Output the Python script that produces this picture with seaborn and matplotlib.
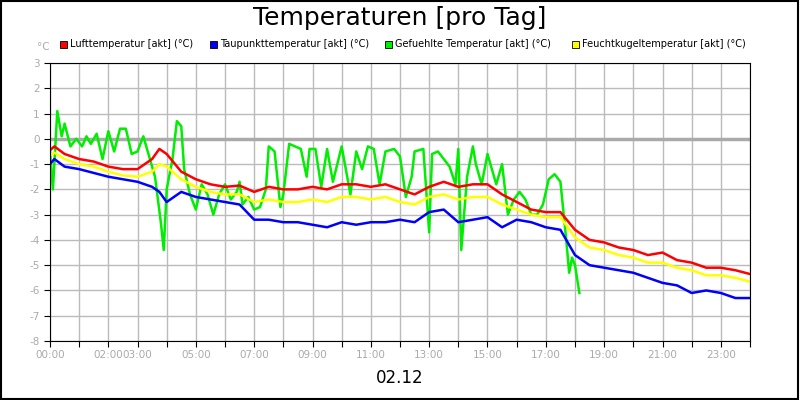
import numpy as np
import pandas as pd
import matplotlib
matplotlib.use("Agg")
import matplotlib.pyplot as plt
import seaborn as sns
from matplotlib.patches import Rectangle

hours_main = [0, 0.15, 0.5, 1, 1.5, 2, 2.5, 3, 3.5, 3.75, 4, 4.5, 5, 5.5, 6, 6.5, 7, 7.5, 8, 8.5, 9, 9.5,
              10, 10.5, 11, 11.5, 12, 12.5, 13, 13.5, 14, 14.5, 15, 15.5, 16, 16.5, 17, 17.5, 18, 18.5,
              19, 19.5, 20, 20.5, 21, 21.5, 22, 22.5, 23, 23.5, 24]
luft = [-0.45, -0.3, -0.6, -0.8, -0.9, -1.1, -1.2, -1.2, -0.8, -0.4, -0.6, -1.3, -1.6, -1.8, -1.9, -1.85,
        -2.1, -1.9, -2.0, -2.0, -1.9, -2.0, -1.8, -1.8, -1.9, -1.8, -2.0, -2.2, -1.9, -1.7, -1.9, -1.8,
        -1.8, -2.2, -2.5, -2.8, -2.9, -2.9, -3.6, -4.0, -4.1, -4.3, -4.4, -4.6, -4.5, -4.8, -4.9, -5.1,
        -5.1, -5.2, -5.35]
feucht = [-0.65, -0.55, -0.8, -1.0, -1.1, -1.3, -1.45, -1.5, -1.3, -1.0, -1.1, -1.6, -1.9, -2.1, -2.2,
          -2.2, -2.5, -2.4, -2.5, -2.5, -2.4, -2.5, -2.3, -2.3, -2.4, -2.3, -2.5, -2.6, -2.3, -2.2, -2.4,
          -2.3, -2.3, -2.6, -2.8, -3.0, -3.1, -3.1, -3.9, -4.3, -4.4, -4.6, -4.7, -4.9, -4.9, -5.1, -5.2,
          -5.4, -5.4, -5.5, -5.65]
taupunkt = [-1.0, -0.8, -1.1, -1.2, -1.35, -1.5, -1.6, -1.7, -1.9, -2.1, -2.5, -2.1, -2.3, -2.4, -2.5,
            -2.6, -3.2, -3.2, -3.3, -3.3, -3.4, -3.5, -3.3, -3.4, -3.3, -3.3, -3.2, -3.3, -2.9, -2.8,
            -3.3, -3.2, -3.1, -3.5, -3.2, -3.3, -3.5, -3.6, -4.6, -5.0, -5.1, -5.2, -5.3, -5.5, -5.7,
            -5.8, -6.1, -6.0, -6.1, -6.3, -6.3]

hours_gef = [0, 0.1, 0.25, 0.4, 0.5, 0.7, 0.9, 1.1, 1.25, 1.4, 1.6, 1.8, 2, 2.2, 2.4, 2.6, 2.8, 3, 3.2,
             3.4, 3.6, 3.8, 3.9, 4.0, 4.2, 4.35, 4.5, 4.6, 4.8, 5.0, 5.2, 5.4, 5.6, 5.8, 6.0, 6.2, 6.4,
             6.5, 6.6, 6.8, 7.0, 7.2, 7.4, 7.5, 7.7, 7.9, 8.0, 8.2, 8.4, 8.6, 8.8, 8.9, 9.1, 9.3, 9.5,
             9.7, 10.0, 10.3, 10.5, 10.7, 10.9, 11.1, 11.3, 11.5, 11.8, 12.0, 12.2, 12.4, 12.5, 12.8,
             13.0, 13.1, 13.3, 13.5, 13.7, 13.9, 14.0, 14.1, 14.3, 14.5, 14.6, 14.8, 15.0, 15.3, 15.5,
             15.7, 15.9, 16.1, 16.3, 16.5, 16.7, 16.9, 17.1, 17.3, 17.5, 17.7, 17.8, 17.9, 18.0, 18.15]
gefuehlt = [-0.5, -2.0, 1.1, 0.1, 0.6, -0.3, 0.0, -0.3, 0.1, -0.2, 0.2, -0.8, 0.3, -0.5, 0.4, 0.4, -0.6,
            -0.5, 0.1, -0.7, -1.5, -3.3, -4.4, -2.0, -0.8, 0.7, 0.5, -1.2, -2.2, -2.8, -1.8, -2.2, -3.0,
            -2.2, -1.8, -2.4, -2.1, -1.7, -2.6, -2.3, -2.8, -2.7, -2.0, -0.3, -0.5, -2.7, -2.2, -0.2,
            -0.3, -0.4, -1.5, -0.4, -0.4, -1.9, -0.4, -1.7, -0.3, -2.2, -0.5, -1.2, -0.3, -0.4, -1.8,
            -0.5, -0.4, -0.7, -2.3, -1.5, -0.5, -0.4, -3.7, -0.6, -0.5, -0.8, -1.1, -1.8, -0.4, -4.4,
            -1.5, -0.3, -1.0, -1.8, -0.6, -1.8, -1.0, -3.0, -2.4, -2.1, -2.4, -3.0, -3.0, -2.6, -1.6,
            -1.4, -1.7, -4.0, -5.3, -4.7, -5.0, -6.1]

tick_hours = [0, 2, 3, 5, 7, 9, 11, 13, 15, 17, 19, 21, 23]
tick_labels = ["00:00", "02:00", "03:00", "05:00", "07:00", "09:00", "11:00", "13:00", "15:00",
               "17:00", "19:00", "21:00", "23:00"]
series_names = ["Lufttemperatur [akt] (°C)", "Taupunkttemperatur [akt] (°C)",
                "Gefuehlte Temperatur [akt] (°C)", "Feuchtkugeltemperatur [akt] (°C)"]
colors = ["#ff0000", "#0000ff", "#00ee00", "#ffff00"]

fig = plt.figure(figsize=(8, 4), dpi=100)
fig.patches.append(Rectangle((0.001, 0.002), 0.997, 0.996, transform=fig.transFigure,
                             fill=False, edgecolor="black", linewidth=1.5))
ax = fig.add_axes([50/800, 59/400, 700/800, 278/400])

gray = "#bbbbbb"
ax.set_xlim(0, 24)
ax.set_ylim(-8, 3)
ax.grid(True, color=gray, linewidth=1)
ax.axhline(0, color="#aaaaaa", linewidth=2.5, zorder=1)
ax.set_axisbelow(True)

sns.lineplot(x=hours_gef, y=gefuehlt, ax=ax, color=colors[2], linewidth=1.8)
sns.lineplot(x=hours_main, y=feucht, ax=ax, color=colors[3], linewidth=1.8)
sns.lineplot(x=hours_main, y=taupunkt, ax=ax, color=colors[1], linewidth=1.8)
sns.lineplot(x=hours_main, y=luft, ax=ax, color=colors[0], linewidth=1.8)

ax.set_xticks(range(25))
ax.set_xticklabels(["" for _ in range(25)])
for h, lab in zip(tick_hours, tick_labels):
    ax.text(h, -8.35, lab, ha="center", va="top", fontsize=7.5, color="#aaaaaa")
ax.set_yticks(range(-8, 4))
ax.set_yticklabels([str(v) for v in range(-8, 4)], fontsize=7.5, color="#aaaaaa")
ax.tick_params(length=4, color="black")
for s in ax.spines.values():
    s.set_color("black")

fig.text(0.5, 0.955, "Temperaturen [pro Tag]", ha="center", va="center", fontsize=18)
fig.text(0.5, 0.055, "02.12", ha="center", va="center", fontsize=12)
fig.text(37/800, 1 - 47/400, "°C", fontsize=7.5, color="#aaaaaa", va="center")

leg_x = [60, 210, 385, 572]
for x, name, c in zip(leg_x, series_names, colors):
    fig.patches.append(Rectangle((x/800, 1 - 48/400), 7/800, 7/400, transform=fig.transFigure,
                                 facecolor=c, edgecolor="black", linewidth=0.6))
    fig.text((x + 10)/800, 1 - 44/400, name, fontsize=7, va="center")

ax.set_xlabel("")
ax.set_ylabel("")
fig.savefig("out.png", dpi=100)
